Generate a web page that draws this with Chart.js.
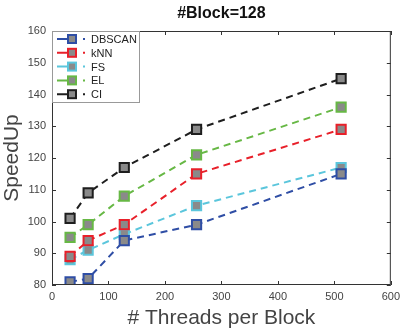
<!DOCTYPE html>
<html>
<head>
<meta charset="utf-8">
<script src="https://cdn.jsdelivr.net/npm/chart.js@4"></script>
<style>
  html, body { margin: 0; padding: 0; background: #fff; }
  #wrap { width: 405px; height: 336px; }
</style>
</head>
<body>
<div id="wrap"><canvas id="chart" width="405" height="336"></canvas></div>
<script>
// data
const threads = [32, 64, 128, 256, 512];
const seriesNames = ["DBSCAN", "kNN", "FS", "EL", "CI"];
const dbscan = [81, 82, 94, 99, 115];
const knn = [89, 94, 99, 115, 129];
const fs = [88, 91, 96, 105, 117];
const el = [95, 99, 108, 121, 136];
const ci = [101, 109, 117, 129, 145];
const xTicks = [0, 100, 200, 300, 400, 500, 600];
const yTicks = [80, 90, 100, 110, 120, 130, 140, 150, 160];

const colors = ["#2f4ea5", "#e8202a", "#5bc6dc", "#67b845", "#1e1e1e"];
const values = [dbscan, knn, fs, el, ci];
const markerFill = "#8a8a8a";
const font = "'Liberation Sans', Arial, sans-serif";

const datasets = seriesNames.map((name, i) => ({
    label: name,
    data: threads.map((t, j) => ({ x: t, y: values[i][j] })),
    borderColor: colors[i],
    borderWidth: 2,
    borderDash: [7, 5],
    pointStyle: "rect",
    pointRadius: 6.5,
    pointBorderWidth: 2,
    pointBackgroundColor: markerFill,
    pointBorderColor: colors[i],
    fill: false,
    tension: 0
}));

// box, inward ticks, title and legend the MATLAB way
const matlabPlugin = {
    id: "matlab",
    afterDraw(chart) {
        const ctx = chart.ctx;
        const a = chart.chartArea;
        const xs = chart.scales.x, ys = chart.scales.y;
        ctx.save();
        ctx.strokeStyle = "#333";
        ctx.lineWidth = 1;
        ctx.strokeRect(a.left + 0.5, a.top + 0.5, a.right - a.left - 1, a.bottom - a.top - 1);
        ctx.beginPath();
        xTicks.forEach(v => {
            const px = Math.round(xs.getPixelForValue(v)) + 0.5;
            ctx.moveTo(px, a.bottom); ctx.lineTo(px, a.bottom - 4);
            ctx.moveTo(px, a.top); ctx.lineTo(px, a.top + 4);
        });
        yTicks.forEach(v => {
            const py = Math.round(ys.getPixelForValue(v)) + 0.5;
            ctx.moveTo(a.left, py); ctx.lineTo(a.left + 4, py);
            ctx.moveTo(a.right, py); ctx.lineTo(a.right - 4, py);
        });
        ctx.stroke();

        // title
        ctx.fillStyle = "#111";
        ctx.font = "bold 16px " + font;
        ctx.textAlign = "center";
        ctx.textBaseline = "middle";
        ctx.fillText("#Block=128", (a.left + a.right) / 2, 14);

        // legend box
        const lx = a.left, ly = a.top, lw = 87, lh = 71;
        ctx.fillStyle = "#fff";
        ctx.fillRect(lx + 1, ly + 1, lw - 1, lh - 1);
        ctx.strokeStyle = "#999";
        ctx.strokeRect(lx + 0.5, ly + 0.5, lw, lh);
        ctx.font = "11px " + font;
        ctx.textAlign = "left";
        chart.data.datasets.forEach((ds, i) => {
            const y = ly + 8 + i * 13.8;
            ctx.strokeStyle = ds.borderColor;
            ctx.lineWidth = 2;
            ctx.setLineDash([10, 16, 2, 10]);
            ctx.beginPath();
            ctx.moveTo(lx + 5, y); ctx.lineTo(lx + 33, y);
            ctx.stroke();
            ctx.setLineDash([]);
            ctx.fillStyle = markerFill;
            ctx.fillRect(lx + 16, y - 4, 8, 8);
            ctx.strokeRect(lx + 16, y - 4, 8, 8);
            ctx.fillStyle = "#222";
            ctx.fillText(ds.label, lx + 39, y + 1);
        });
        ctx.restore();
    }
};

new Chart(document.getElementById("chart"), {
    type: "line",
    data: { datasets: datasets },
    options: {
        responsive: false,
        animation: false,
        layout: { padding: { top: 31, right: 11, left: 0, bottom: 0 } },
        plugins: { legend: { display: false }, title: { display: false }, tooltip: { enabled: false } },
        scales: {
            x: {
                type: "linear",
                min: 0, max: 600,
                afterBuildTicks: s => { s.ticks = xTicks.map(v => ({ value: v })); },
                afterFit: s => { s.height = 51; },
                grid: { display: false, drawTicks: false },
                border: { display: false },
                ticks: { color: "#444", font: { family: font, size: 11 }, padding: 5, maxRotation: 0 },
                title: { display: true, text: "# Threads per Block", color: "#444",
                    font: { family: font, size: 21 }, padding: { top: 0, bottom: 5 } }
            },
            y: {
                min: 80, max: 160,
                afterBuildTicks: s => { s.ticks = yTicks.map(v => ({ value: v })); },
                afterFit: s => { s.width = 52; },
                grid: { display: false, drawTicks: false },
                border: { display: false },
                ticks: { color: "#444", font: { family: font, size: 11 }, padding: 6 },
                title: { display: true, text: "SpeedUp", color: "#444",
                    font: { family: font, size: 21 }, padding: { top: 0, bottom: 0 } }
            }
        }
    },
    plugins: [matlabPlugin]
});
</script>
</body>
</html>
